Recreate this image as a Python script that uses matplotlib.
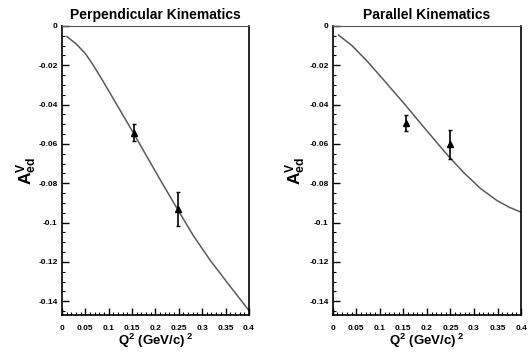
import numpy as np
import matplotlib
matplotlib.use('Agg')
import matplotlib.pyplot as plt
from matplotlib.ticker import MultipleLocator, FormatStrFormatter

plt.rcParams['font.family'] = ['Liberation Sans', 'DejaVu Sans']
plt.rcParams['font.weight'] = 'bold'
plt.rcParams['mathtext.fontset'] = 'custom'
plt.rcParams['mathtext.rm'] = 'Liberation Sans:bold'
plt.rcParams['mathtext.bf'] = 'Liberation Sans:bold'
plt.rcParams['mathtext.it'] = 'Liberation Sans:bold'
plt.rcParams['mathtext.default'] = 'bf'
plt.rcParams['axes.unicode_minus'] = False

# perpendicular kinematics: theory curve and data
perp_curve_x = [0.0107, 0.03, 0.05, 0.065, 0.082, 0.11, 0.151, 0.1815, 0.21, 0.2456,
                0.281, 0.3167, 0.352, 0.4]
perp_curve_y = [-0.0054, -0.0090, -0.0140, -0.0192, -0.0257, -0.0370, -0.0536, -0.0663,
                -0.0781, -0.0925, -0.1066, -0.1190, -0.1300, -0.1447]
perp_q2 = [0.155, 0.248]
perp_a = [-0.0543, -0.0930]
perp_err = [0.0043, 0.0085]

# parallel kinematics
par_curve_x = [0.0121, 0.04, 0.07, 0.10, 0.13, 0.156, 0.19, 0.22, 0.248, 0.278,
               0.3135, 0.349, 0.375, 0.4]
par_curve_y = [-0.0046, -0.0098, -0.0171, -0.0252, -0.0335, -0.0407, -0.0505, -0.0590,
               -0.0668, -0.0745, -0.0826, -0.0888, -0.0922, -0.0947]
par_q2 = [0.156, 0.248]
par_a = [-0.0494, -0.0602]
par_err = [0.0042, 0.0074]

titles = ['Perpendicular Kinematics', 'Parallel Kinematics']

fig = plt.figure(figsize=(5.29, 3.53), dpi=100)
ax1 = fig.add_axes([0.117, 0.1076, 0.3535, 0.8188])
ax2 = fig.add_axes([0.629, 0.1076, 0.356, 0.8188])


def style(ax, title, lab_x):
    ax.set_xlim(0, 0.4)
    ax.set_ylim(-0.147, 0)
    ax.xaxis.set_major_locator(MultipleLocator(0.05))
    ax.xaxis.set_minor_locator(MultipleLocator(0.01))
    ax.yaxis.set_major_locator(MultipleLocator(0.02))
    ax.yaxis.set_minor_locator(MultipleLocator(0.005))
    ax.xaxis.set_major_formatter(FormatStrFormatter('%g'))
    ax.yaxis.set_major_formatter(FormatStrFormatter('%g'))
    ax.tick_params(which='both', direction='in', top=False, right=False, labelsize=6)
    ax.tick_params(axis='x', which='major', length=5, width=1, pad=7)
    ax.tick_params(axis='y', which='major', length=5, width=1, pad=3)
    ax.tick_params(which='minor', length=2.5, width=0.8)
    for s in ['left', 'bottom', 'right']:
        ax.spines[s].set_linewidth(1.2)
    ax.spines['top'].set_linewidth(0.8)
    ax.spines['top'].set_linestyle((0, (1, 1)))
    ax.spines['top'].set_color('#555555')
    ax.set_title(title, fontsize=10, fontweight='bold', pad=5)
    ax.set_xlabel(r'$Q^{2}$ (GeV/c)$^{\ 2}$', fontsize=9.5, fontweight='bold', labelpad=0)
    ax.set_ylabel(r'$A^{V}_{ed}$', fontsize=12.5, fontweight='bold')
    ax.yaxis.set_label_coords(lab_x, 0.5)


ax1.plot(perp_curve_x, perp_curve_y, color='#5a5a5a', lw=1.1)
ax1.errorbar(perp_q2, perp_a, yerr=perp_err, fmt='^', color='black', ms=4.5,
             elinewidth=1.2, capsize=1.2)
style(ax1, titles[0], -0.12)

ax2.plot(par_curve_x, par_curve_y, color='#5a5a5a', lw=1.1)
ax2.errorbar(par_q2, par_a, yerr=par_err, fmt='^', color='black', ms=4.5,
             elinewidth=1.2, capsize=1.2)
style(ax2, titles[1], -0.13)

fig.savefig('out.png', dpi=100)
